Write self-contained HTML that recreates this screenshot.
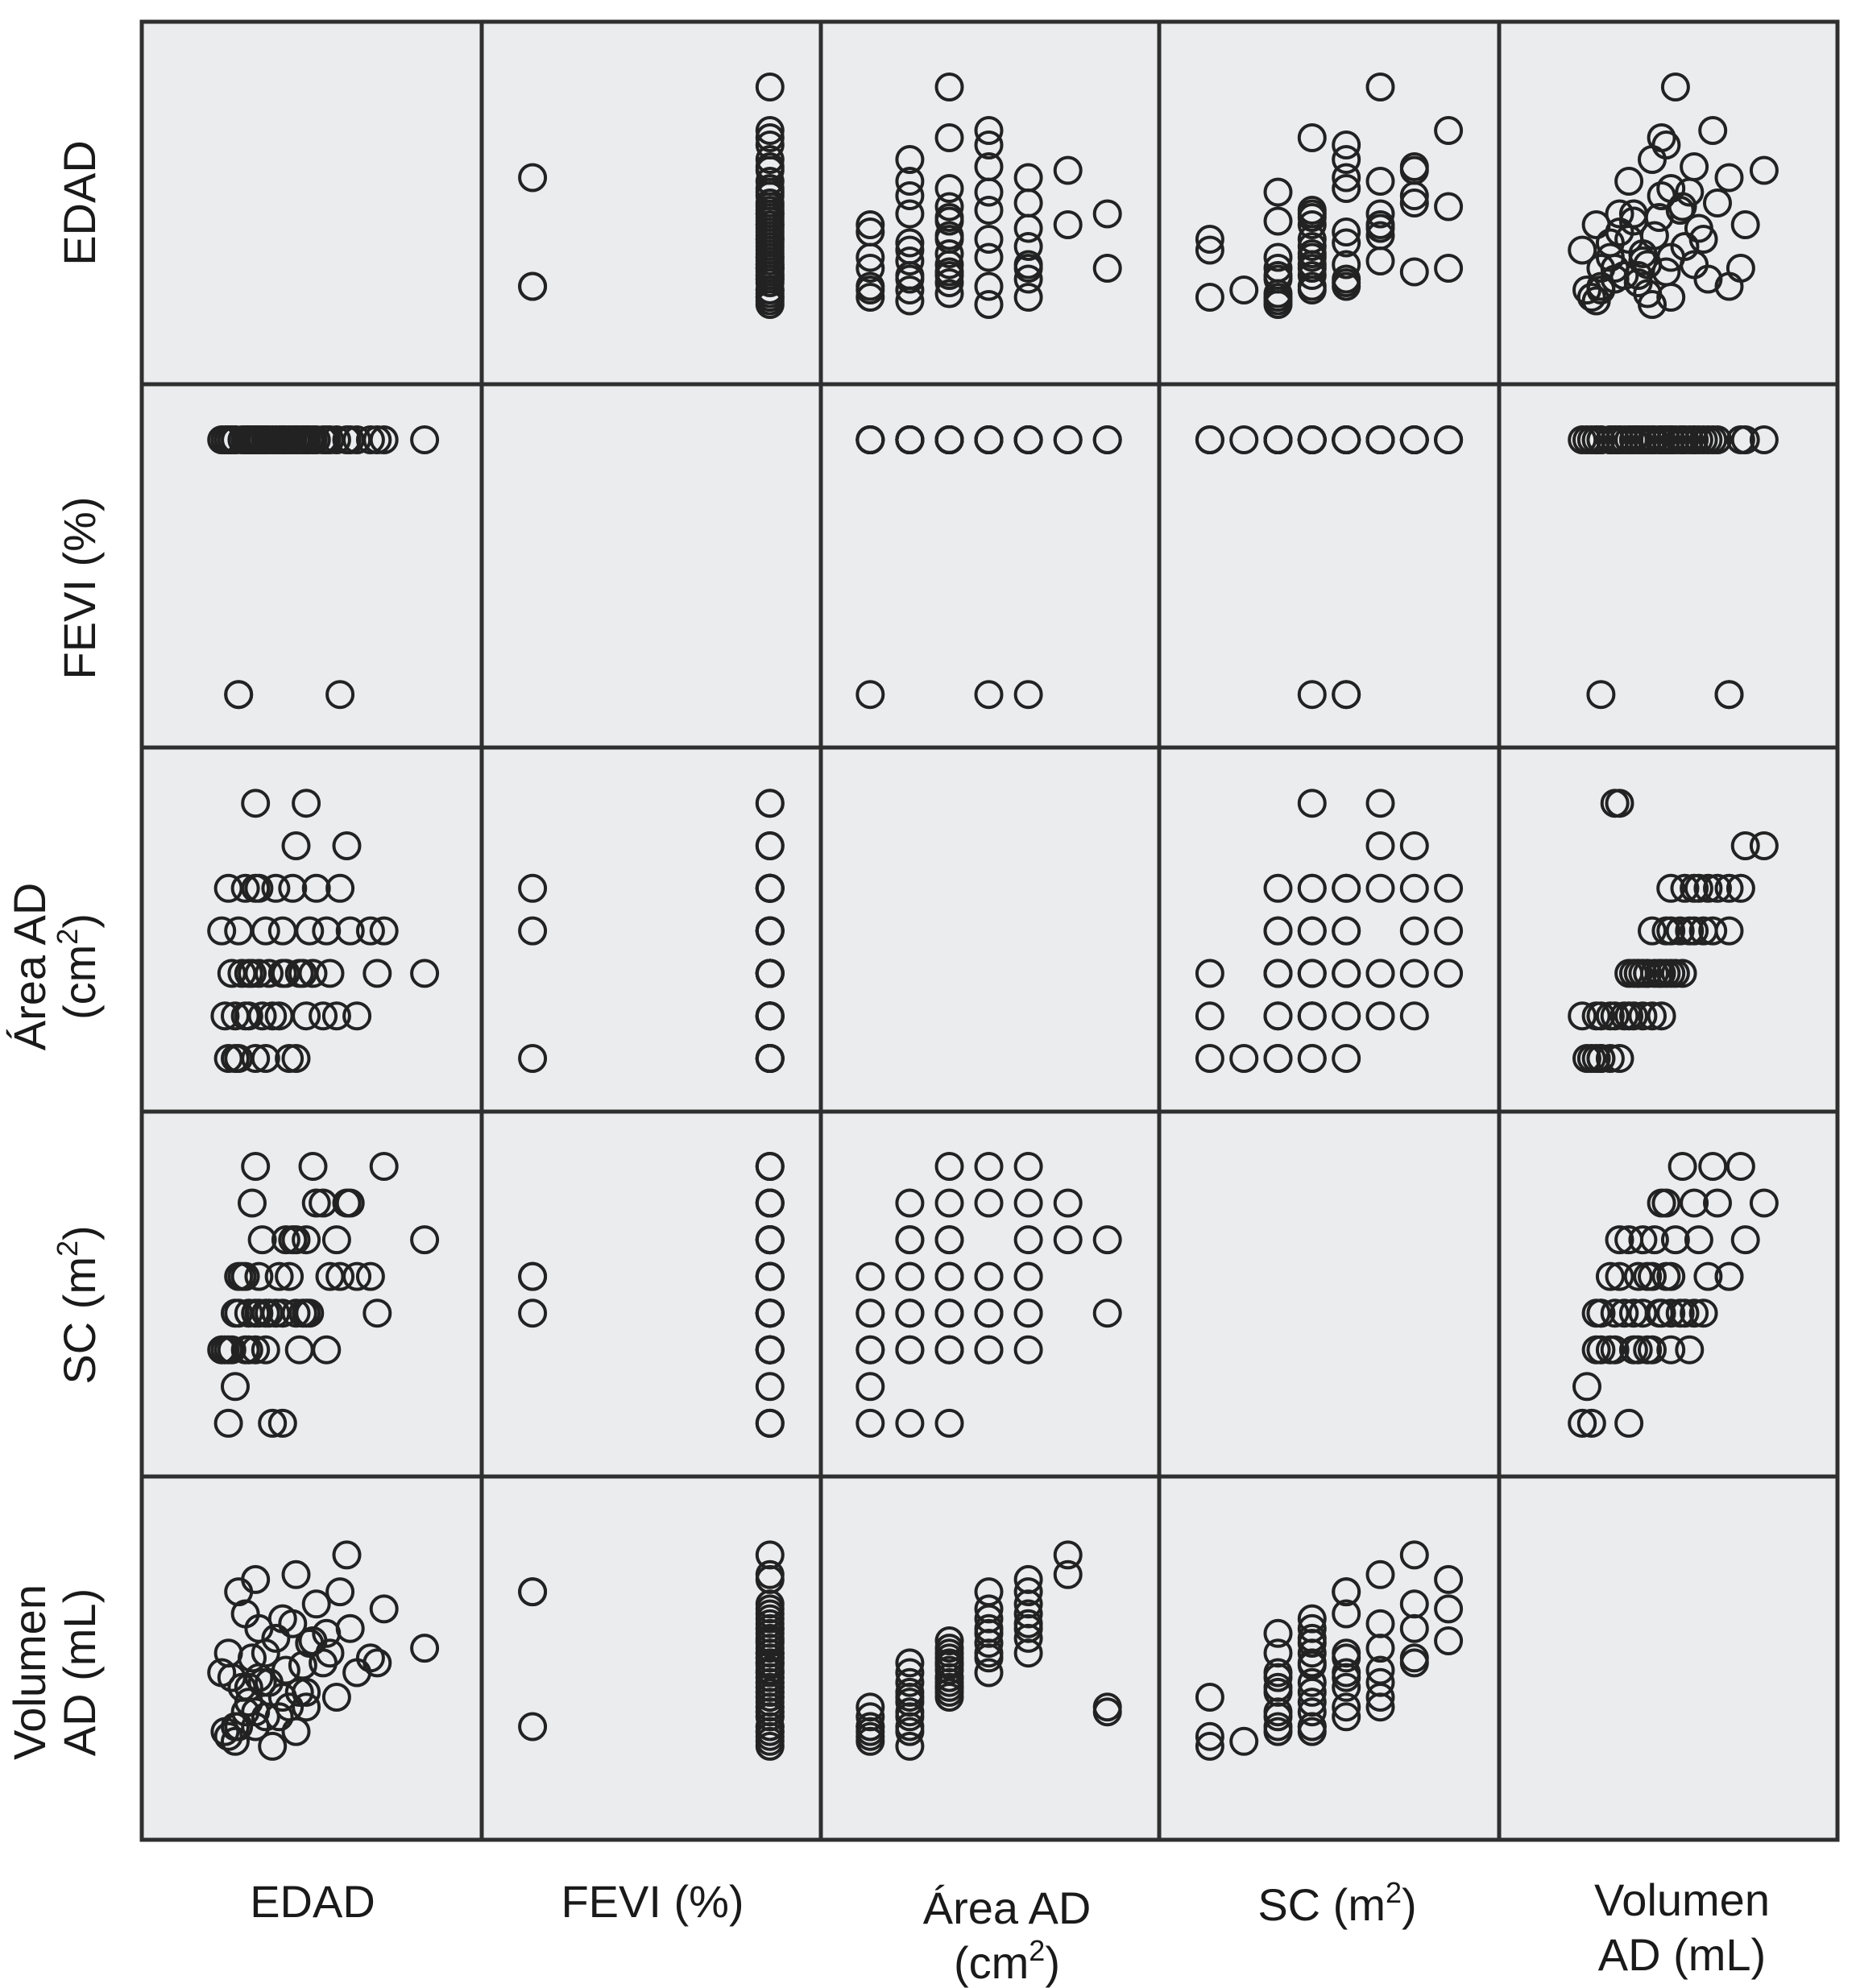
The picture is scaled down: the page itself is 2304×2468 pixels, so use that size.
<!DOCTYPE html>
<html><head><meta charset="utf-8"><style>
html,body{margin:0;padding:0;background:#fff;}
svg{display:block;font-family:"Liberation Sans",sans-serif;}
</style></head><body>
<svg id="chart" width="2304" height="2468" viewBox="0 0 2304 2468" style="position:absolute;left:0;top:0">
<g id="cells"></g><g id="pts"></g>
<g font-family="Liberation Sans, sans-serif" font-size="56" fill="#1a1a1a" text-anchor="middle">
<g>
<text transform="translate(118,252) rotate(-90)">EDAD</text>
<text transform="translate(118,730) rotate(-90)">FEVI (%)</text>
<text transform="translate(56,1200) rotate(-90)">Área AD</text>
<text transform="translate(118,1200) rotate(-90)">(cm<tspan font-size="36" dy="-22">2</tspan><tspan dy="22">)</tspan></text>
<text transform="translate(118,1620) rotate(-90)">SC (m<tspan font-size="36" dy="-22">2</tspan><tspan dy="22">)</tspan></text>
<text transform="translate(56,2076) rotate(-90)">Volumen</text>
<text transform="translate(118,2076) rotate(-90)">AD (mL)</text>
</g>
<g>
<text x="388" y="2380">EDAD</text>
<text x="810" y="2380">FEVI (%)</text>
<text x="1250" y="2388">Área AD</text>
<text x="1250" y="2456">(cm<tspan font-size="36" dy="-22">2</tspan><tspan dy="22">)</tspan></text>
<text x="1660" y="2384">SC (m<tspan font-size="36" dy="-22">2</tspan><tspan dy="22">)</tspan></text>
<text x="2088" y="2378">Volumen</text>
<text x="2088" y="2446">AD (mL)</text>
</g>
</g>
</svg>
<script>
const varNames = ["EDAD","FEVI","AREA","SC","VOL"];
const edad = [22,24,30,25,40,35,27,45,60,32,50,38,23,44,52,80,29,47,20,33,25,58,68,22,36,55,41,48,30,42,57,30,45,28,34,26,46,37,43,64,21,33,27,39,51,24,66,31,42,31,54,38,28];
const fevi = [60,60,60,20,60,60,60,60,60,60,60,60,60,60,60,60,60,60,60,60,20,60,60,60,60,20,60,60,60,60,60,60,60,60,60,60,60,60,60,60,60,60,60,60,60,60,60,60,60,60,60,60,60];
const area = [1,1,1,1,1,2,2,2,2,2,2,3,3,3,3,3,3,3,4,4,4,4,4,5,5,5,5,5,5,6,6,7,7,2,3,3,4,2,3,4,2,1,5,3,4,2,3,5,1,3,2,4,3];
const sc   = [1,2,3,4,5,1,3,4,5,6,7,1,3,4,5,6,7,8,3,4,5,7,8,3,4,5,6,7,8,6,7,4,6,4,4,5,4,5,3,5,3,3,5,6,3,4,4,4,4,5,6,4,3];
const vol  = [26,24,30,30,38,22,36,44,52,48,56,42,50,55,60,62,58,65,52,60,85,70,78,60,66,85,72,80,90,92,100,36,38,40,48,46,64,34,44,58,28,34,76,53,68,30,56,70,28,50,42,74,46];
const cols = [edad,fevi,area,sc,vol];
const domains = [[20,80],[20,60],[1,7],[1,8],[20,100]];
const xFrac = [[0.235,0.832],[0.15,0.85],[0.146,0.847],[0.149,0.851],[0.232,0.783]];
const yFrac = [[0.18,0.78],[0.153,0.854],[0.153,0.854],[0.15,0.854],[0.216,0.756]];
const xb=[176,598,1019,1439,1861,2281], yb=[27,477,928,1380,1833,2284];
const NS="http://www.w3.org/2000/svg";
function xScale(v,col){const d=domains[col],f=xFrac[col],w=xb[col+1]-xb[col];return xb[col]+w*(f[0]+(v-d[0])/(d[1]-d[0])*(f[1]-f[0]));}
function yScale(v,row){const d=domains[row],f=yFrac[row],h=yb[row+1]-yb[row];return yb[row]+h*(f[1]-(v-d[0])/(d[1]-d[0])*(f[1]-f[0]));}
const cells=document.getElementById('cells');
for(let r=0;r<5;r++)for(let c=0;c<5;c++){
  const rc=document.createElementNS(NS,'rect');
  rc.setAttribute('x',xb[c]);rc.setAttribute('y',yb[r]);
  rc.setAttribute('width',xb[c+1]-xb[c]);rc.setAttribute('height',yb[r+1]-yb[r]);
  rc.setAttribute('fill','#ebecee');rc.setAttribute('stroke','#2f2f2f');rc.setAttribute('stroke-width','5');
  
  
  cells.appendChild(rc);
}
const pts=document.getElementById('pts');
for(let r=0;r<5;r++)for(let c=0;c<5;c++){
  if(r===c)continue;
  for(let i=0;i<edad.length;i++){
    const ci=document.createElementNS(NS,'circle');
    ci.setAttribute('cx',xScale(cols[c][i],c).toFixed(1));
    ci.setAttribute('cy',yScale(cols[r][i],r).toFixed(1));
    ci.setAttribute('r','16');ci.setAttribute('fill','none');
    ci.setAttribute('stroke','#222');ci.setAttribute('stroke-width','4');
    
    
    pts.appendChild(ci);
  }
}
</script>
</body></html>
